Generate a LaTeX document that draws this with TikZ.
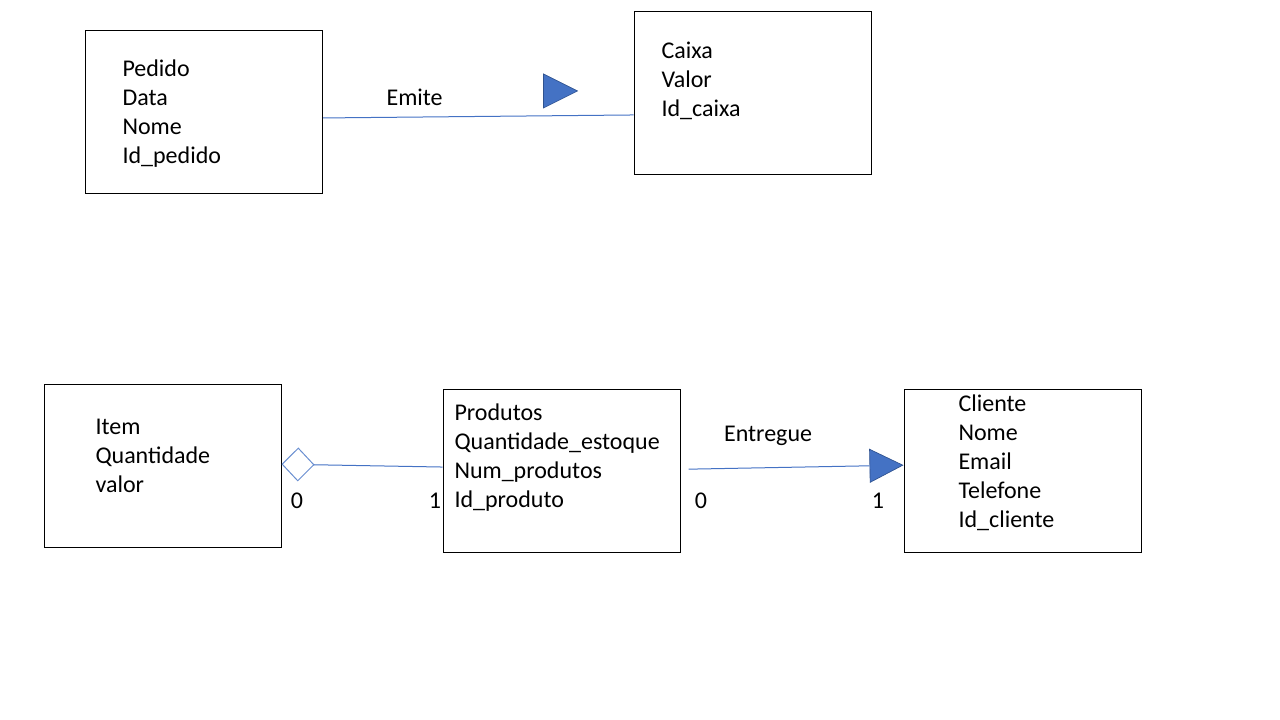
\documentclass[tikz,border=0pt]{standalone}
\usepackage{fontspec}
\setmainfont{Carlito}
\usepackage{tikz}
\usetikzlibrary{positioning}
\usetikzlibrary{arrows.meta}
\usetikzlibrary{shapes.geometric}
\definecolor{linkblue}{HTML}{4472C4}
\definecolor{darkblue}{HTML}{2F528F}
\tikzset{my_diagram/.style={x=0.75pt,y=-0.75pt,line width=0.75pt}}
\tikzset{my_class/.style={rectangle, draw=black, line width=0.75pt, minimum width=177.75pt, minimum height=122.25pt, inner sep=0}}
\tikzset{my_fields/.style={anchor=north west, align=left, inner sep=0, font=\fontsize{18}{21.75}\selectfont}}
\tikzset{my_label/.style={anchor=base, inner sep=0, font=\fontsize{18}{21.75}\selectfont}}
\tikzset{my_link/.style={draw=linkblue, line width=0.75pt}}
\tikzset{my_direction/.style={isosceles triangle, isosceles triangle stretches, fill=linkblue, draw=darkblue, line width=0.5pt, minimum width=25.5pt, minimum height=25.5pt, inner sep=0}}

\begin{document}
\begin{tikzpicture}[my_diagram]
    \useasboundingbox (0,0) rectangle (1280,720);
    %\draw[help lines] (0,0) grid (1280,720);
    \node[my_class] (pedido) at (204,112.5) {};
    \node[my_class] (caixa) at (752.5,93.5) {};
    \node[my_class] (item) at (162.5,465.5) {};
    \node[my_class] (produtos) at (561.5,470.5) {};
    \node[my_class] (cliente) at (1022.5,470.5) {};

    \node[my_fields] (pedidoTxt) at (122,59) {Pedido\\Data\\Nome\\Id\_pedido};
    \node[my_fields] (caixaTxt) at (661,41) {Caixa\\Valor\\Id\_caixa};
    \node[my_fields] (itemTxt) at (95,419) {Item\\Quantidade\\valor};
    \node[my_fields] (produtosTxt) at (454,403) {Produtos\\Quantidade\_estoque\\Num\_produtos\\Id\_produto};
    \node[my_fields] (clienteTxt) at (958,394) {Cliente\\Nome\\Email\\Telefone\\Id\_cliente};

    \node[my_direction] (emiteDir) at (554,91) {};

    \path
        ([yshift=-4.1pt]pedido.east) edge [my_link] node [my_label, pos=0.295, yshift=8.5pt] {Emite} ([yshift=-16.1pt]caixa.west)
        ([yshift=1pt]item.east) edge [my_link, {Diamond[open, length=24.75pt, width=25.5pt, color=linkblue!80]}-] ([yshift=2.6pt]produtos.west)
        ([xshift=6pt,yshift=1pt]produtos.east) edge [my_link, -{Triangle[length=25.5pt, width=25.5pt, fill=linkblue, color=darkblue, line width=0.5pt]}] node [my_label, pos=0.37, yshift=20pt] {Entregue} ([yshift=4pt]cliente.west)
    ;

    \node[my_label] (itemMult) at (297,508.7) {0};
    \node[my_label] (produtosMultA) at (435,508.7) {1};
    \node[my_label] (produtosMultB) at (701,508.7) {0};
    \node[my_label] (clienteMult) at (878,508.7) {1};
\end{tikzpicture}
\end{document}
